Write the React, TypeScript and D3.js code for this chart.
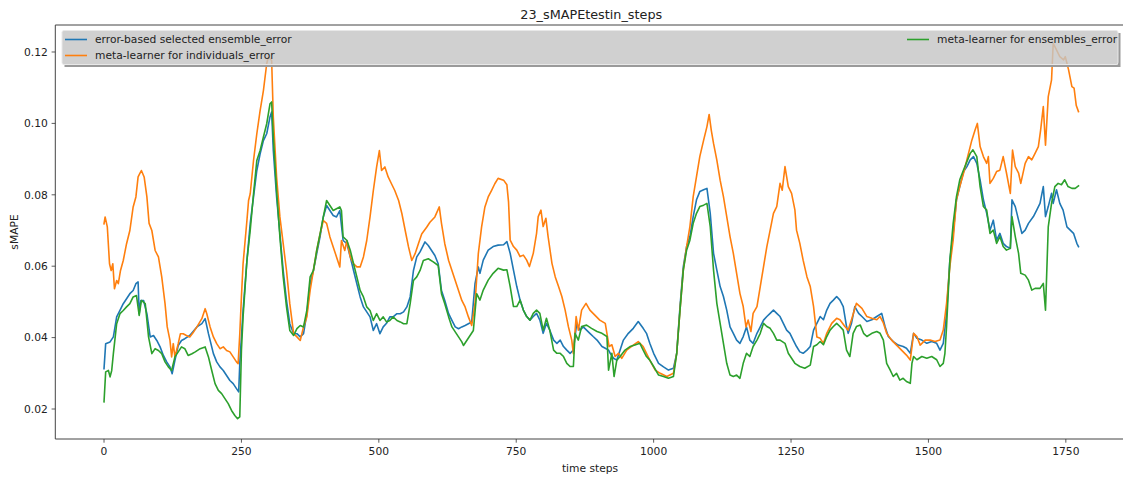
import React from "react";
import * as d3 from "d3";

const W = 1123;
const H = 477;

const chartTitle = "23_sMAPEtestin_steps";
const xLabel = "time steps";
const yLabel = "sMAPE";
const xTicks = [0, 250, 500, 750, 1000, 1250, 1500, 1750];
const yTicks = [0.02, 0.04, 0.06, 0.08, 0.1, 0.12];
const seriesNames = [
  "error-based selected ensemble_error",
  "meta-learner for individuals_error",
  "meta-learner for ensembles_error",
];
const seriesColors = ["#1f77b4", "#ff7f0e", "#2ca02c"];

// [time step, sMAPE]
const ensembleError: [number, number][] = [
  [0,0.0313],[3,0.0383],[11,0.0388],[17,0.0402],[23,0.0458],[29,0.0476],[35,0.0495],[41,0.0509],[47,0.0523],[53,0.0532],[58,0.0551],[62,0.0556],[64,0.0467],[67,0.0504],[72,0.0504],[78,0.0467],[84,0.0402],[90,0.0406],[96,0.0392],[102,0.0374],[108,0.035],[114,0.0332],[120,0.0318],[124,0.0299],[129,0.0336],[135,0.0378],[141,0.0392],[147,0.0397],[156,0.0406],[169,0.043],[178,0.0439],[184,0.0453],[190,0.0411],[199,0.0355],[205,0.0332],[211,0.0318],[217,0.0308],[223,0.0294],[229,0.028],[235,0.0271],[241,0.0257],[245,0.0248],[247,0.0327],[253,0.0476],[260,0.0616],[266,0.072],[272,0.0794],[278,0.0868],[284,0.0915],[290,0.0952],[296,0.0971],[302,0.1018],[305,0.1032],[308,0.0924],[314,0.0794],[320,0.0691],[326,0.0588],[332,0.0504],[338,0.0439],[345,0.0411],[351,0.0411],[357,0.0402],[363,0.0411],[369,0.0467],[375,0.0551],[381,0.0588],[387,0.0635],[393,0.0682],[399,0.0738],[405,0.077],[411,0.0756],[417,0.0742],[423,0.0738],[429,0.0756],[435,0.0672],[442,0.0663],[448,0.0626],[454,0.0588],[460,0.0551],[466,0.0514],[472,0.0486],[478,0.0472],[484,0.0458],[490,0.042],[496,0.0439],[502,0.0411],[508,0.043],[514,0.044],[520,0.0458],[526,0.0458],[533,0.0467],[539,0.0467],[545,0.0472],[551,0.0486],[557,0.0514],[563,0.0588],[569,0.0626],[575,0.064],[584,0.0668],[590,0.0658],[596,0.0644],[602,0.063],[608,0.0607],[614,0.0532],[620,0.0504],[627,0.0467],[633,0.0448],[639,0.043],[645,0.0425],[651,0.043],[657,0.0434],[663,0.0439],[669,0.0444],[675,0.0551],[681,0.0598],[684,0.058],
  [690,0.0617],[699,0.0645],[708,0.0655],[717,0.0659],[727,0.066],[733,0.0669],[739,0.0636],[745,0.0589],[751,0.0543],[757,0.0505],[763,0.0477],[769,0.0459],[775,0.0449],[781,0.0459],[787,0.0468],[793,0.0449],[799,0.0412],[805,0.044],[811,0.0421],[818,0.0393],[824,0.0384],[830,0.0393],[836,0.0375],[842,0.0365],[848,0.0356],[854,0.0365],[860,0.044],[866,0.0421],[872,0.043],[878,0.0421],[884,0.0412],[890,0.0403],[897,0.0393],[906,0.0375],[912,0.037],[918,0.0365],[921,0.0356],[927,0.0342],[933,0.0337],[939,0.0365],[945,0.0393],[954,0.0412],[963,0.0426],[972,0.0445],[981,0.0426],[987,0.0412],[993,0.0384],[1000,0.0356],[1009,0.0328],[1018,0.0318],[1027,0.0309],[1036,0.0314],[1042,0.0356],[1048,0.0487],[1054,0.0599],[1060,0.0655],[1066,0.0683],[1072,0.0739],[1078,0.0786],[1084,0.0809],[1091,0.0814],[1097,0.0818],[1103,0.0748],[1109,0.0636],[1115,0.0589],[1121,0.0543],[1127,0.0515],[1133,0.0477],[1139,0.043],[1145,0.0412],[1151,0.0393],[1157,0.0384],[1163,0.0403],[1169,0.043],[1175,0.0393],[1181,0.0384],[1188,0.0412],[1194,0.043],[1200,0.0449],[1206,0.0459],[1212,0.0468],[1218,0.0477],[1224,0.0468],[1230,0.0459],
  [1236,0.044],[1242,0.0421],[1248,0.0412],[1254,0.0393],[1260,0.0375],[1266,0.036],[1272,0.0356],[1279,0.0365],[1285,0.0375],[1291,0.0421],[1297,0.044],[1303,0.0459],[1309,0.045],[1315,0.0477],[1321,0.0496],[1327,0.0505],[1333,0.0515],[1339,0.0505],[1345,0.0487],[1351,0.0431],[1354,0.0412],[1360,0.044],[1366,0.0487],[1373,0.0468],[1379,0.0459],[1388,0.0445],[1397,0.045],[1406,0.0459],[1415,0.0468],[1421,0.0431],[1427,0.0403],[1436,0.0389],[1445,0.0379],[1454,0.0375],[1460,0.037],[1467,0.0356],[1473,0.0412],[1479,0.0398],[1488,0.0393],[1497,0.0384],[1506,0.0389],[1515,0.0384],[1521,0.0365],[1527,0.0384],[1533,0.0468],[1539,0.0617],[1545,0.0692],[1551,0.0786],[1557,0.0823],[1564,0.0865],[1570,0.0879],[1576,0.0898],[1582,0.0907],[1588,0.0888],[1594,0.0842],[1600,0.0786],[1606,0.0748],[1612,0.0701],[1618,0.0729],[1624,0.0673],[1630,0.0692],[1636,0.0664],[1642,0.0655],[1649,0.065],[1652,0.0786],[1658,0.0767],[1664,0.0729],[1670,0.0692],[1676,0.0701],[1682,0.072],[1691,0.0739],[1697,0.0757],[1703,0.0776],[1709,0.0823],[1713,0.0739],[1718,0.0767],[1724,0.0804],[1727,0.0776],[1733,0.0814],[1739,0.0776],[1745,0.0757],[1752,0.071],[1758,0.0701],[1764,0.0692],[1770,0.0664],[1773,0.0655],
];

const individualsError: [number, number][] = [
  [0,0.0719],[2,0.0738],[6,0.071],[10,0.0607],[13,0.0588],[16,0.0607],[19,0.0537],[23,0.056],[26,0.0551],[30,0.0588],[35,0.0616],[41,0.0663],[47,0.07],[53,0.0766],[58,0.0794],[62,0.085],[65,0.0859],[68,0.0868],[73,0.085],[78,0.0794],[82,0.072],[87,0.07],[93,0.0644],[99,0.0626],[105,0.057],[111,0.0495],[115,0.043],[120,0.0392],[123,0.0346],[126,0.0383],[129,0.0346],[135,0.0383],[139,0.0411],[144,0.0411],[150,0.0406],[156,0.0402],[163,0.0416],[169,0.043],[178,0.0453],[184,0.0481],[187,0.0467],[193,0.043],[199,0.0402],[205,0.0383],[211,0.0369],[217,0.0374],[223,0.0364],[229,0.036],[235,0.0346],[241,0.0332],[244,0.0327],[247,0.041],[250,0.0514],[253,0.0607],[260,0.0728],[263,0.0784],[266,0.0803],[272,0.0896],[278,0.0971],[284,0.1036],[290,0.1092],[296,0.1167],[299,0.1186],[305,0.1176],[308,0.1018],[314,0.085],[320,0.0738],[326,0.0663],[332,0.0588],[338,0.0495],[345,0.0411],[351,0.0402],[357,0.0392],[363,0.043],[369,0.0458],[375,0.0532],[381,0.0588],[387,0.0644],[393,0.069],[399,0.0728],[405,0.072],[411,0.0682],[417,0.0654],[423,0.0626],[429,0.0598],[432,0.0672],[438,0.0644],[442,0.0672],[448,0.0626],[454,0.0607],[460,0.0598],[466,0.0598],[472,0.0626],[478,0.0672],[484,0.0738],[490,0.0812],[496,0.0878],[501,0.0924],[505,0.0868],[511,0.0878],[517,0.085],[523,0.0831],[529,0.0812],[536,0.0784],[542,0.0747],[548,0.07],[554,0.0654],[560,0.0616],[566,0.0635],[572,0.0663],[578,0.069],[587,0.0709],[593,0.0723],[602,0.0738],[610,0.0766],[614,0.072],[620,0.0663],[627,0.0616],[633,0.0588],[639,0.056],[645,0.0532],[651,0.0504],[657,0.0486],[663,0.0458],[669,0.0434],[675,0.0495],[681,0.0635],[687,0.071],[693,0.0766],[699,0.0794],[705,0.0812],[711,0.0831],[717,0.0846],[727,0.0841],[733,0.0828],[736,0.078],[739,0.0673],[745,0.0655],[751,0.0645],[757,0.0627],[763,0.0631],[769,0.0617],[774,0.0599],[781,0.0636],[787,0.0692],[790,0.0739],[795,0.0757],[799,0.0711],[804,0.0734],[808,0.0683],[815,0.0608],[821,0.057],[827,0.0543],[833,0.0515],[839,0.0477],[845,0.043],[851,0.0393],[854,0.0355],[859,0.0459],[863,0.0421],[869,0.0477],[877,0.0496],[884,0.0477],[893,0.0463],[902,0.0449],[912,0.044],[919,0.0375],[924,0.038],[930,0.0347],[936,0.0356],[942,0.0342],[951,0.0365],[963,0.0379],[972,0.0389],[981,0.0375],[987,0.0356],[993,0.0337],[1003,0.0309],[1012,0.03],[1024,0.0291],[1036,0.03],[1042,0.0356],[1048,0.0477],[1054,0.0589],[1060,0.0655],[1066,0.0711],[1072,0.0795],[1078,0.0851],[1084,0.0907],[1091,0.0953],[1097,0.0991],[1101,0.1025],[1105,0.098],[1109,0.0944],[1115,0.0897],[1121,0.0841],[1127,0.0795],[1133,0.0739],[1139,0.0683],[1145,0.0636],[1151,0.058],[1157,0.0524],[1163,0.0487],[1168,0.043],[1172,0.0449],[1177,0.0417],[1181,0.0468],[1188,0.0487],[1194,0.0543],[1200,0.0599],[1206,0.0655],[1212,0.0701],[1218,0.0748],[1224,0.0767],[1230,0.0832],[1234,0.0813],[1239,0.0879],[1245,0.0823],[1251,0.0804],[1257,0.0758],[1260,0.0701],[1266,0.0664],[1272,0.0617],[1279,0.057],[1285,0.0543],[1291,0.0487],[1297,0.0402],[1303,0.0398],[1309,0.0384],[1315,0.0412],[1324,0.044],[1333,0.0454],[1339,0.045],[1348,0.0431],[1354,0.0421],[1360,0.045],[1369,0.0496],[1379,0.0482],[1388,0.0459],[1397,0.0454],[1406,0.045],[1412,0.0459],[1418,0.0441],[1424,0.0412],[1433,0.0393],[1442,0.0379],[1451,0.0365],[1460,0.0351],[1467,0.0337],[1473,0.0412],[1479,0.0403],[1485,0.0379],[1494,0.0393],[1503,0.0393],[1512,0.0389],[1521,0.0393],[1527,0.0421],[1533,0.0496],[1539,0.0599],[1545,0.0673],[1551,0.0786],[1557,0.0823],[1564,0.0861],[1570,0.0898],[1579,0.0953],[1585,0.0982],[1589,0.1],[1594,0.0935],[1600,0.0907],[1606,0.0888],[1609,0.0907],[1612,0.0832],[1618,0.0846],[1624,0.0865],[1630,0.0869],[1636,0.0907],[1642,0.0861],[1649,0.0804],[1653,0.0925],[1658,0.0879],[1664,0.0861],[1668,0.0832],[1676,0.0888],[1682,0.0907],[1688,0.0898],[1694,0.0916],[1700,0.0935],[1704,0.098],[1709,0.1047],[1713,0.0939],[1718,0.1075],[1724,0.1122],[1727,0.1224],[1733,0.1206],[1739,0.1187],[1746,0.1178],[1749,0.1187],[1755,0.115],[1761,0.1103],[1765,0.1099],[1769,0.105],[1773,0.1033],
];

const ensemblesMetaError: [number, number][] = [
  [0,0.022],[3,0.0304],[8,0.0308],[11,0.029],[14,0.0308],[17,0.0355],[23,0.0439],[29,0.0467],[35,0.0476],[41,0.0486],[47,0.0495],[53,0.0514],[59,0.0518],[64,0.0462],[68,0.0504],[75,0.0495],[81,0.0402],[87,0.0355],[93,0.0369],[99,0.0364],[105,0.0355],[111,0.0332],[117,0.0318],[123,0.0308],[129,0.0346],[135,0.036],[141,0.0374],[147,0.0369],[153,0.035],[160,0.0355],[166,0.036],[175,0.0369],[184,0.0374],[190,0.0346],[196,0.0308],[202,0.0271],[208,0.0252],[214,0.0243],[220,0.0229],[226,0.0215],[232,0.0196],[238,0.0182],[243,0.0173],[247,0.0178],[250,0.0364],[253,0.0458],[260,0.0616],[266,0.07],[272,0.0803],[278,0.0896],[284,0.0924],[290,0.0962],[296,0.0999],[302,0.1055],[305,0.106],[308,0.0962],[314,0.0812],[320,0.0682],[326,0.057],[332,0.0486],[338,0.042],[345,0.0406],[351,0.0425],[357,0.0434],[363,0.043],[369,0.0476],[375,0.057],[381,0.0588],[387,0.0644],[393,0.069],[399,0.0738],[405,0.0784],[411,0.077],[417,0.0756],[423,0.0761],[429,0.0766],[432,0.0756],[435,0.0682],[442,0.0672],[448,0.0645],[454,0.0607],[460,0.057],[466,0.0532],[472,0.0514],[478,0.0486],[484,0.0476],[490,0.0448],[496,0.0467],[502,0.0448],[508,0.0458],[514,0.0444],[520,0.0448],[526,0.0458],[533,0.0448],[539,0.0444],[545,0.0439],[551,0.0439],[557,0.0495],[563,0.056],[569,0.057],[575,0.0588],[581,0.0616],[590,0.0621],[599,0.0612],[608,0.0602],[614,0.0523],[620,0.0495],[627,0.0458],[633,0.043],[639,0.0416],[645,0.0402],[651,0.0388],[654,0.0378],[660,0.0392],[666,0.0406],[672,0.042],[678,0.0523],[684,0.0505],[690,0.0533],[699,0.0561],[708,0.058],[717,0.0594],[727,0.0589],[733,0.059],[739,0.0543],[745,0.0487],[751,0.0487],[757,0.0505],[763,0.0477],[769,0.0459],[775,0.0449],[781,0.0468],[787,0.0477],[793,0.0468],[799,0.0421],[805,0.0454],[811,0.0421],[818,0.0365],[824,0.0356],[830,0.0356],[836,0.0347],[842,0.0328],[848,0.0319],[854,0.0319],[857,0.0412],[863,0.0393],[869,0.0431],[878,0.0435],[887,0.0426],[897,0.0417],[906,0.0412],[915,0.0403],[918,0.0309],[924,0.0356],[928,0.0291],[933,0.0337],[939,0.0347],[948,0.0365],[957,0.0375],[966,0.0379],[975,0.0384],[981,0.0365],[987,0.0347],[993,0.0337],[1000,0.0319],[1009,0.0295],[1018,0.0291],[1027,0.0286],[1036,0.0291],[1042,0.0356],[1048,0.0477],[1054,0.0589],[1060,0.0645],[1066,0.0673],[1072,0.072],[1078,0.0748],[1084,0.0767],[1091,0.0771],[1097,0.0776],[1103,0.0711],[1109,0.0589],[1115,0.0496],[1121,0.044],[1127,0.0384],[1133,0.0328],[1139,0.0295],[1145,0.0291],[1151,0.0295],[1157,0.0286],[1163,0.0328],[1169,0.0356],[1175,0.0347],[1181,0.0375],[1188,0.0393],[1194,0.0412],[1200,0.044],[1206,0.0431],[1212,0.0426],[1218,0.0412],[1224,0.0393],[1230,0.0393],[1239,0.0384],[1245,0.0356],[1251,0.0342],[1257,0.0328],[1266,0.0319],[1275,0.0314],[1285,0.0323],[1291,0.0375],[1297,0.038],[1303,0.0389],[1309,0.038],[1315,0.0403],[1321,0.0421],[1327,0.0431],[1333,0.044],[1339,0.0431],[1345,0.0421],[1351,0.0365],[1357,0.0347],[1363,0.0412],[1369,0.0431],[1376,0.0435],[1382,0.0412],[1388,0.0403],[1397,0.0412],[1406,0.0417],[1412,0.0412],[1418,0.0393],[1424,0.0328],[1430,0.031],[1436,0.0291],[1442,0.03],[1448,0.0281],[1454,0.0286],[1460,0.0277],[1467,0.0272],[1470,0.0328],[1473,0.0347],[1479,0.0338],[1488,0.0347],[1497,0.0342],[1506,0.0347],[1515,0.0338],[1521,0.0319],[1527,0.0328],[1530,0.0356],[1533,0.0431],[1539,0.0617],[1545,0.072],[1551,0.0795],[1557,0.0842],[1564,0.087],[1570,0.0893],[1576,0.0916],[1581,0.0926],[1588,0.0907],[1594,0.0823],[1600,0.0767],[1606,0.0757],[1612,0.0692],[1618,0.0701],[1624,0.0664],[1630,0.0683],[1636,0.0655],[1642,0.0645],[1649,0.065],[1652,0.0739],[1658,0.0683],[1664,0.0636],[1668,0.058],[1676,0.0575],[1682,0.0561],[1688,0.0533],[1694,0.0538],[1703,0.0538],[1709,0.0552],[1713,0.0477],[1718,0.071],[1724,0.0776],[1730,0.0823],[1736,0.0832],[1742,0.0828],[1748,0.0842],[1754,0.0823],[1761,0.0818],[1767,0.0818],[1773,0.0825],
];

const allSeries = [ensembleError, individualsError, ensemblesMetaError];

const FONT = "'DejaVu Sans', sans-serif";
const FS = 10.7;

export default function App() {
  const left = 55.3;
  const right = 1127.2;
  const top = 25;
  const bottom = 439;

  const x = d3.scaleLinear().domain([-88.65, 1861.65]).range([left, right]);
  const y = d3.scaleLinear().domain([0.0116, 0.12756]).range([bottom, top]);
  const line = d3
    .line<[number, number]>()
    .x((d) => x(d[0]))
    .y((d) => y(d[1]));

  // legend geometry
  const lgX = 62;
  const lgY = 30.5;
  const lgW = 1056;
  const lgH = 34;
  const sh = 2.5;
  const rows = [39.5, 55.5];
  const cols = [65, 907];

  return (
    <svg
      width={W}
      height={H}
      style={{ position: "absolute", left: 0, top: 0, background: "#fff" }}
      fontFamily={FONT}
    >
      <rect x={0} y={0} width={W} height={H} fill="#fff" />
      <defs>
        <clipPath id="plotClip">
          <rect x={left} y={top} width={right - left} height={bottom - top} />
        </clipPath>
      </defs>

      {/* lines */}
      <g clipPath="url(#plotClip)">
        {allSeries.map((s, i) => (
          <path
            key={i}
            d={line(s) || ""}
            fill="none"
            stroke={seriesColors[i]}
            strokeWidth={1.6}
            strokeLinejoin="round"
            strokeLinecap="square"
          />
        ))}
      </g>

      {/* spines */}
      <g stroke="#444" strokeWidth={1} fill="none">
        <line x1={left} y1={top} x2={right} y2={top} />
        <line x1={left} y1={top} x2={left} y2={bottom} />
        <line x1={left} y1={bottom} x2={right} y2={bottom} />
        <line x1={right} y1={top} x2={right} y2={bottom} />
      </g>

      {/* x ticks */}
      {xTicks.map((t) => (
        <g key={"x" + t}>
          <line x1={x(t)} x2={x(t)} y1={bottom} y2={bottom + 3.7} stroke="#333" strokeWidth={0.8} />
          <text x={x(t)} y={bottom + 16} textAnchor="middle" fontSize={FS} fill="#222">
            {t}
          </text>
        </g>
      ))}

      {/* y ticks */}
      {yTicks.map((t) => (
        <g key={"y" + t}>
          <line x1={left - 3.7} x2={left} y1={y(t)} y2={y(t)} stroke="#333" strokeWidth={0.8} />
          <text x={left - 7.5} y={y(t)} dy="0.35em" textAnchor="end" fontSize={FS} fill="#222">
            {t.toFixed(2)}
          </text>
        </g>
      ))}

      {/* labels */}
      <text x={(left + right) / 2} y={18.5} textAnchor="middle" fontSize={12.8} fill="#222">
        {chartTitle}
      </text>
      <text x={590} y={471.5} textAnchor="middle" fontSize={FS} fill="#222">
        {xLabel}
      </text>
      <text transform={`translate(18,${(top + bottom) / 2}) rotate(-90)`} textAnchor="middle" fontSize={FS} fill="#222">
        {yLabel}
      </text>

      {/* legend */}
      <g>
        <path
          d={`M${lgX + lgW},${lgY + sh} h${sh} v${lgH} h${-lgW} v${-sh} h${lgW - sh} Z`}
          fill="#9a9a9a"
        />
        <rect x={lgX} y={lgY} width={lgW} height={lgH} rx={2} fill="#c6c6c6" fillOpacity={0.82} stroke="#e8e8e8" strokeWidth={1} />
        {seriesNames.map((name, i) => {
          const col = i < 2 ? 0 : 1;
          const row = i < 2 ? i : 0;
          const lx = cols[col];
          const ly = rows[row];
          return (
            <g key={name}>
              <line x1={lx} x2={lx + 22} y1={ly} y2={ly} stroke={seriesColors[i]} strokeWidth={1.6} />
              <text x={lx + 30} y={ly} dy="0.35em" fontSize={FS} fill="#222">
                {name}
              </text>
            </g>
          );
        })}
      </g>
    </svg>
  );
}
